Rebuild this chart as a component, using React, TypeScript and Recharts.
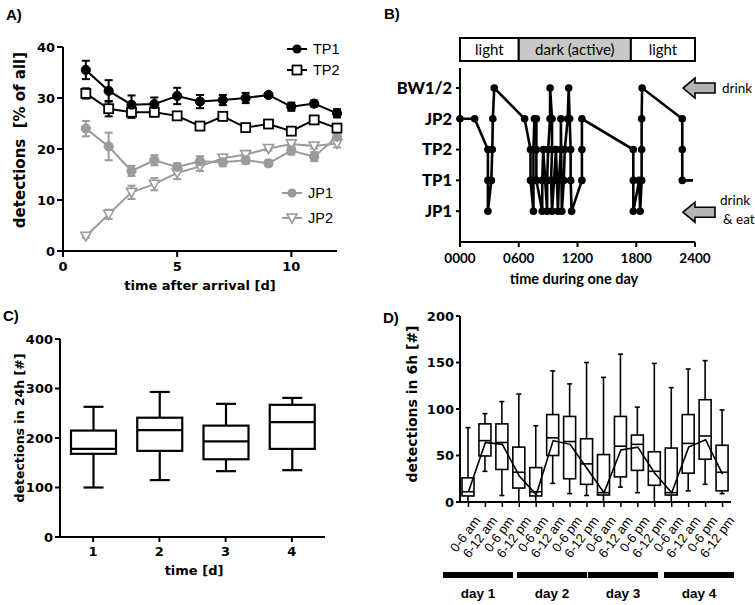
import React from 'react';
import { LineChart, Line, XAxis, YAxis, ErrorBar, ComposedChart, Bar } from 'recharts';

const WIDE = '"DejaVu Sans", Verdana, sans-serif';
const ARIAL = '"Liberation Sans", Arial, sans-serif';
const LATO = 'Lato, "Open Sans", sans-serif';
const GREY = '#9b9b9b';

// ---------- Panel A data ----------
const daysA = [1, 2, 3, 4, 5, 6, 7, 8, 9, 10, 11, 12];
const tp1 = [35.5, 31.4, 28.7, 28.8, 30.4, 29.3, 29.6, 30.0, 30.6, 28.3, 28.9, 27.0];
const tp1Err = [1.8, 2.1, 1.8, 1.3, 1.6, 1.3, 1.0, 1.0, 0.4, 0.8, 0.6, 0.8];
const tp2 = [30.9, 27.9, 27.2, 27.2, 26.5, 24.5, 26.4, 24.2, 24.9, 23.5, 25.7, 24.1];
const tp2Err = [1.0, 1.5, 1.1, 0.8, 0.6, 0.5, 0.4, 0.3, 0.4, 0.4, 0.4, 0.5];
const jp1 = [24.0, 20.5, 15.7, 17.8, 16.5, 17.6, 17.4, 17.8, 17.2, 19.7, 18.5, 22.4];
const jp1Err = [1.5, 2.7, 1.0, 1.0, 0.7, 1.0, 0.8, 0.7, 0.6, 0.8, 0.9, 1.0];
const jp2 = [2.9, 7.2, 11.5, 13.1, 15.3, 16.6, 18.2, 18.9, 20.1, 21.0, 20.6, 21.1];
const jp2Err = [0.3, 0.9, 1.3, 1.2, 1.2, 0.9, 0.7, 0.5, 0.4, 0.6, 0.5, 0.8];
const aSeriesNames = ['TP1', 'TP2', 'JP1', 'JP2'];

// ---------- Panel B data ----------
const bTimes = [
  0, 1.5, 2.85, 2.85, 2.85, 3.2, 3.3, 3.35, 3.5,
  6.6, 7.2, 7.2, 7.5, 7.5, 7.5, 7.6, 7.8, 7.8, 7.8, 8.4, 8.4, 8.5, 8.9, 8.9, 9.0, 9.2, 9.2,
  9.4, 9.4, 9.3, 9.4, 9.6, 9.8, 10.0, 10.1, 10.3, 10.3, 10.4, 10.6, 10.7, 11.0, 11.1, 11.2,
  11.3, 11.3, 11.4, 12.45, 12.45, 12.45,
  17.7, 17.7, 17.7, 18.3, 18.4, 18.55, 18.55, 18.55, 18.6,
  22.7, 22.7, 22.7, 23.8,
];
const bLevels = [
  4, 4, 3, 2, 1, 2, 3, 4, 5,
  4, 3, 2, 1, 2, 3, 4, 4, 3, 2, 1, 2, 3, 1, 2, 3, 4, 5,
  4, 3, 2, 1, 2, 3, 1, 2, 3, 4, 1, 2, 3, 4, 5, 4,
  3, 2, 1, 2, 3, 4,
  3, 2, 1, 2, 1, 2, 3, 4, 5,
  4, 3, 2, 2,
];
const bLevelNames = ['JP1', 'TP1', 'TP2', 'JP2', 'BW1/2'];
const bHourTicks = [0, 6, 12, 18, 24];
const bPhaseLabels = ['light', 'dark (active)', 'light'];
const bPhaseStart = [0, 6, 17.45];
const bPhaseEnd = [6, 17.45, 24];
const bPhaseDark = [false, true, false];
const bArrowLevels = [5, 1];
const bArrowText = [['drink'], ['drink', '& eat']];

// ---------- Panel C data ----------
const cDays = ['1', '2', '3', '4'];
const cMin = [100, 115, 133, 135];
const cQ1 = [168, 174, 157, 178];
const cMed = [178, 216, 193, 232];
const cQ3 = [215, 241, 225, 267];
const cMax = [263, 293, 269, 281];

// ---------- Panel D data ----------
const dDays = ['day 1', 'day 2', 'day 3', 'day 4'];
const dPeriods = ['0-6 am', '6-12 am', '0-6 pm', '6-12 pm'];
const dMin = [0, 33, 7, 0, 0, 20, 9, 7, 0, 16, 10, 0, 0, 12, 19, 9];
const dQ1 = [6.5, 49.5, 35, 15, 6.5, 50, 25, 19, 7.5, 27, 34, 18, 7.5, 31, 46, 12];
const dMed = [11, 66, 64, 32, 11, 69, 65, 41, 10, 60, 62, 33, 10, 63, 71, 32];
const dQ3 = [26, 84, 84, 59, 37, 94, 92, 68, 51, 92, 72, 54, 58, 94, 110, 61];
const dMax = [80, 95, 108, 116, 82, 141, 127, 150, 134, 159, 102, 149, 123, 143, 152, 99];
const dMean = [11, 64, 62, 28, 8, 66, 62, 36, 10, 56, 59, 31, 10, 59, 67, 30];

// ---------- Layout constants ----------
const A = { left: 0, top: 0, w: 380, h: 300, pl: 63, pr: 337, pt: 47, pb: 251 };
const B = { left: 380, top: 0, w: 375, h: 300, pl: 80, pr: 315, pt: 68, pb: 242, yMax: 5.65 };
const C = { left: 0, top: 300, w: 380, h: 305, pl: 60, pr: 325, pt: 39, pb: 237 };
const D = { left: 380, top: 300, w: 375, h: 305, pl: 80, pr: 351, pt: 16, pb: 202 };
const DAY_BAR_LEFT = [443, 517, 588, 664];
const DAY_BAR_W = 70;

const axisStroke = { stroke: '#000', strokeWidth: 2 };
const wideTick = { fontFamily: WIDE, fontWeight: 'bold', fontSize: 13, fill: '#000' };

const vTitle = (text: string, x: number, y: number, font: string, size: number) => () => (
  <text x={x} y={y} transform={`rotate(-90, ${x}, ${y})`} textAnchor="middle" dominantBaseline="central"
    fontFamily={font} fontSize={size} fontWeight="bold" fill="#000" style={{ whiteSpace: 'pre' }}>{text}</text>
);
const hTitle = (text: string, x: number, y: number, font: string, size: number) => () => (
  <text x={x} y={y} textAnchor="middle" dominantBaseline="central"
    fontFamily={font} fontSize={size} fontWeight="bold" fill="#000" style={{ whiteSpace: 'pre' }}>{text}</text>
);

// ---------- markers ----------
const circleDot = (color: string) => (p: any) => (
  <circle key={`c${p.index}`} cx={p.cx} cy={p.cy} r={4.6} fill={color} stroke={color} strokeWidth={1} />
);
const squareDot = (p: any) => (
  <rect key={`s${p.index}`} x={p.cx - 4.5} y={p.cy - 4.5} width={9} height={9} fill="#fff" stroke="#000" strokeWidth={1.8} />
);
const triDot = (p: any) => (
  <polygon key={`t${p.index}`} points={`${p.cx - 5},${p.cy - 4} ${p.cx + 5},${p.cy - 4} ${p.cx},${p.cy + 5}`}
    fill="#fff" stroke={GREY} strokeWidth={1.6} />
);

function PanelA() {
  const data = daysA.map((d, i) => ({
    day: d, tp1: tp1[i], tp1e: tp1Err[i], tp2: tp2[i], tp2e: tp2Err[i],
    jp1: jp1[i], jp1e: jp1Err[i], jp2: jp2[i], jp2e: jp2Err[i],
  }));
  return (
    <LineChart width={A.w} height={A.h} data={data}
      margin={{ top: A.pt, right: A.w - A.pr, bottom: 0, left: 0 }}>
      <XAxis type="number" dataKey="day" domain={[0, 12]} ticks={[0, 5, 10]} height={A.h - A.pb}
        axisLine={axisStroke} tickLine={axisStroke} tickSize={6} tickMargin={5} tick={wideTick}
        label={hTitle('time after arrival [d]', 200, 285, WIDE, 13)} />
      <YAxis type="number" domain={[0, 40]} ticks={[0, 10, 20, 30, 40]} width={A.pl}
        axisLine={axisStroke} tickLine={axisStroke} tickSize={6} tickMargin={2} tick={wideTick}
        label={vTitle('detections  [% of all]', 20, 140, WIDE, 15)} />
      <Line dataKey="jp2" stroke={GREY} strokeWidth={2} dot={triDot} isAnimationActive={false}>
        <ErrorBar dataKey="jp2e" width={4} stroke={GREY} strokeWidth={2} direction="y" />
      </Line>
      <Line dataKey="jp1" stroke={GREY} strokeWidth={2} dot={circleDot(GREY)} isAnimationActive={false}>
        <ErrorBar dataKey="jp1e" width={4} stroke={GREY} strokeWidth={2} direction="y" />
      </Line>
      <Line dataKey="tp2" stroke="#000" strokeWidth={2} dot={squareDot} isAnimationActive={false}>
        <ErrorBar dataKey="tp2e" width={4} stroke="#000" strokeWidth={2} direction="y" />
      </Line>
      <Line dataKey="tp1" stroke="#000" strokeWidth={2} dot={circleDot('#000')} isAnimationActive={false}>
        <ErrorBar dataKey="tp1e" width={4} stroke="#000" strokeWidth={2} direction="y" />
      </Line>
    </LineChart>
  );
}

function PanelB() {
  const data = bTimes.map((t, i) => ({ t, lvl: bLevels[i] }));
  const last = data.length - 1;
  const fmt = (h: number) => String(h * 100).padStart(4, '0');
  return (
    <LineChart width={B.w} height={B.h} data={data}
      margin={{ top: B.pt, right: B.w - B.pr, bottom: 0, left: 0 }}>
      <XAxis type="number" dataKey="t" domain={[0, 24]} ticks={bHourTicks} tickFormatter={fmt}
        height={B.h - B.pb} axisLine={axisStroke} tickLine={axisStroke} tickSize={5} tickMargin={6}
        tick={{ fontFamily: LATO, fontWeight: 'bold', fontSize: 13.5, fill: '#000' }}
        label={hTitle('time during one day', 194, 278, LATO, 14.5)} />
      <YAxis type="number" domain={[0, B.yMax]} ticks={[1, 2, 3, 4, 5]} width={B.pl}
        tickFormatter={(v: number) => bLevelNames[v - 1]}
        axisLine={axisStroke} tickLine={axisStroke} tickSize={4} tickMargin={4}
        tick={{ fontFamily: LATO, fontWeight: 900, fontSize: 16.5, fill: '#000' }} />
      <Line dataKey="lvl" stroke="#000" strokeWidth={2.6} isAnimationActive={false}
        dot={(p: any) => p.index === last
          ? <g key={`b${p.index}`} />
          : <circle key={`b${p.index}`} cx={p.cx} cy={p.cy} r={3.8} fill="#000" />} />
    </LineChart>
  );
}

const boxShape = (capHalf: number, sw: number) => (props: any) => {
  const { x, y, width, height, payload } = props;
  const top = Math.min(y, y + height);
  const h = Math.abs(height);
  const { min, q1, med, q3, max } = payload;
  const py = (v: number) => top + (h * (max - v)) / (max - min);
  const cx = x + width / 2;
  return (
    <g stroke="#000" strokeWidth={sw} fill="none">
      <line x1={cx} x2={cx} y1={py(max)} y2={py(q3)} />
      <line x1={cx} x2={cx} y1={py(q1)} y2={py(min)} />
      <line x1={cx - capHalf} x2={cx + capHalf} y1={py(max)} y2={py(max)} />
      <line x1={cx - capHalf} x2={cx + capHalf} y1={py(min)} y2={py(min)} />
      <rect x={x} y={py(q3)} width={width} height={py(q1) - py(q3)} />
      <line x1={x} x2={x + width} y1={py(med)} y2={py(med)} />
    </g>
  );
};

function PanelC() {
  const data = cDays.map((d, i) => ({ name: d, min: cMin[i], q1: cQ1[i], med: cMed[i], q3: cQ3[i], max: cMax[i] }));
  return (
    <ComposedChart width={C.w} height={C.h} data={data}
      margin={{ top: C.pt, right: C.w - C.pr, bottom: 0, left: 0 }}>
      <XAxis dataKey="name" height={C.h - C.pb} axisLine={axisStroke} tickLine={axisStroke}
        tickSize={5} tickMargin={5} tick={wideTick}
        label={hTitle('time [d]', 194, 270, WIDE, 13)} />
      <YAxis type="number" domain={[0, 400]} ticks={[0, 100, 200, 300, 400]} width={C.pl}
        axisLine={axisStroke} tickLine={axisStroke} tickSize={5} tickMargin={2} tick={wideTick}
        label={vTitle('detections in 24h [#]', 19, 128, WIDE, 12.5)} />
      <Bar dataKey={(d: any) => [d.min, d.max]} barSize={45} isAnimationActive={false}
        shape={boxShape(10, 2.2)} />
    </ComposedChart>
  );
}

function DTick(props: any) {
  const { x, y, payload } = props;
  const label = String(payload.value).split('|')[1];
  return (
    <g transform={`translate(${x + 5},${y + 6}) rotate(-53)`}>
      <text x={0} y={0} dy="0.72em" textAnchor="end" fontFamily={ARIAL} fontSize={13}
        fill="#000" stroke="none" style={{ fill: '#000' }}>{label}</text>
    </g>
  );
}

function PanelD() {
  const data = dMin.map((_, i) => ({
    id: `${dDays[Math.floor(i / 4)]}|${dPeriods[i % 4]}`,
    min: dMin[i], q1: dQ1[i], med: dMed[i], q3: dQ3[i], max: dMax[i], mean: dMean[i],
  }));
  return (
    <ComposedChart width={D.w} height={D.h} data={data}
      margin={{ top: D.pt, right: D.w - D.pr, bottom: 0, left: 0 }}>
      <XAxis dataKey="id" interval={0} height={D.h - D.pb} axisLine={axisStroke}
        tickLine={{ stroke: '#000', strokeWidth: 1.5 }} tickSize={5} tickMargin={2} tick={<DTick />} />
      <YAxis type="number" domain={[0, 200]} ticks={[0, 50, 100, 150, 200]} width={D.pl}
        axisLine={axisStroke} tickLine={axisStroke} tickSize={4} tickMargin={2} tick={wideTick}
        label={vTitle('detections in 6h [#]', 32, 104, WIDE, 14)} />
      <Bar dataKey={(d: any) => [d.min, d.max]} barSize={12} isAnimationActive={false}
        shape={boxShape(2.5, 1.6)} />
      <Line dataKey="mean" stroke="#000" strokeWidth={1.6} dot={false} isAnimationActive={false} />
    </ComposedChart>
  );
}

function Overlay() {
  const bx = (h: number) => B.left + B.pl + ((B.pr - B.pl) * h) / 24;
  const by = (lvl: number) => B.top + B.pb - ((B.pb - B.pt) * lvl) / B.yMax;
  const letter = { fontFamily: ARIAL, fontWeight: 'bold' as const, fontSize: 15, fill: '#000' };
  const legendTxt = { fontFamily: ARIAL, fontSize: 14.5, fill: '#000' };
  const legendRows = [
    { y: 49, color: '#000', dot: 'circle', lx: 287, tx: 313 },
    { y: 70, color: '#000', dot: 'square', lx: 287, tx: 313 },
    { y: 193, color: GREY, dot: 'circle', lx: 282, tx: 308 },
    { y: 218, color: GREY, dot: 'tri', lx: 282, tx: 308 },
  ];
  return (
    <svg width={755} height={605} style={{ position: 'absolute', left: 0, top: 0, pointerEvents: 'none' }}>
      <text x={6} y={20} {...letter}>A)</text>
      <text x={384} y={19} {...letter}>B)</text>
      <text x={3} y={321} {...letter}>C)</text>
      <text x={383} y={323} {...letter}>D)</text>

      {legendRows.map((r, i) => {
        const mx = r.lx + 10;
        return (
          <g key={`lg${i}`}>
            <line x1={r.lx} x2={r.lx + 20} y1={r.y} y2={r.y} stroke={r.color} strokeWidth={2} />
            {r.dot === 'circle' && <circle cx={mx} cy={r.y} r={4.6} fill={r.color} />}
            {r.dot === 'square' && <rect x={mx - 4.5} y={r.y - 4.5} width={9} height={9} fill="#fff" stroke="#000" strokeWidth={1.8} />}
            {r.dot === 'tri' && <polygon points={`${mx - 5},${r.y - 4} ${mx + 5},${r.y - 4} ${mx},${r.y + 5}`} fill="#fff" stroke={GREY} strokeWidth={1.6} />}
            <text x={r.tx} y={r.y + 5} {...legendTxt}>{aSeriesNames[i]}</text>
          </g>
        );
      })}

      {bPhaseLabels.map((lab, i) => (
        <g key={`ph${i}`}>
          <rect x={bx(bPhaseStart[i])} y={38} width={bx(bPhaseEnd[i]) - bx(bPhaseStart[i])} height={23}
            fill={bPhaseDark[i] ? '#c8c8c8' : '#fff'} stroke="#000" strokeWidth={2} />
          <text x={(bx(bPhaseStart[i]) + bx(bPhaseEnd[i])) / 2} y={55} textAnchor="middle"
            fontFamily={LATO} fontSize={15} fill="#000">{lab}</text>
        </g>
      ))}

      {bArrowLevels.map((lvl, i) => {
        const cy = by(lvl) + (i === 1 ? 1 : 0);
        const tip = 683, neck = 695, tail = 715;
        const lines = bArrowText[i];
        return (
          <g key={`ar${i}`}>
            <polygon points={`${tip},${cy} ${neck},${cy - 10} ${neck},${cy - 5} ${tail},${cy - 5} ${tail},${cy + 5} ${neck},${cy + 5} ${neck},${cy + 10}`}
              fill="#b3b3b3" stroke="#000" strokeWidth={1.6} />
            {lines.map((t, j) => (
              <text key={j} x={lines.length === 1 ? 722 : 720 + j * 3}
                y={lines.length === 1 ? cy + 5 : cy - 7 + j * 19}
                fontFamily={LATO} fontSize={13.5} fill="#000">{t}</text>
            ))}
          </g>
        );
      })}

      {dDays.map((d, i) => (
        <g key={`day${i}`}>
          <rect x={DAY_BAR_LEFT[i]} y={572} width={DAY_BAR_W} height={6} fill="#000" />
          <text x={DAY_BAR_LEFT[i] + DAY_BAR_W / 2} y={598} textAnchor="middle"
            fontFamily={ARIAL} fontWeight="bold" fontSize={13.5} fill="#000">{d}</text>
        </g>
      ))}
    </svg>
  );
}

export default function App() {
  return (
    <div style={{ position: 'absolute', left: 0, top: 0, width: 755, height: 605, background: '#fff', overflow: 'hidden' }}>
      <div style={{ position: 'absolute', left: A.left, top: A.top }}><PanelA /></div>
      <div style={{ position: 'absolute', left: B.left, top: B.top }}><PanelB /></div>
      <div style={{ position: 'absolute', left: C.left, top: C.top }}><PanelC /></div>
      <div style={{ position: 'absolute', left: D.left, top: D.top }}><PanelD /></div>
      <Overlay />
    </div>
  );
}
